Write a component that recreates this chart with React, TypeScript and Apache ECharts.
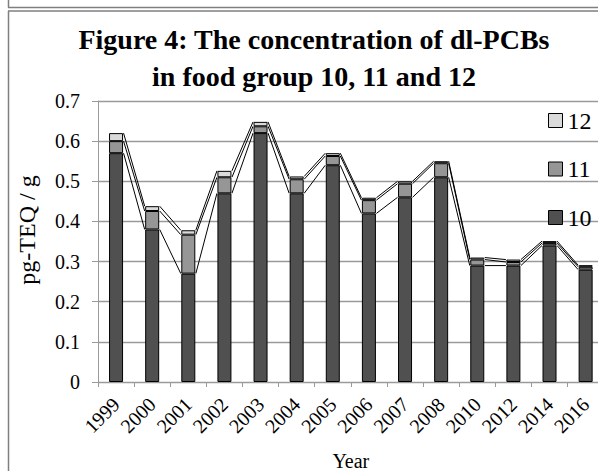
import React, { useEffect, useRef } from "react";
import * as echarts from "echarts";

const years = ["1999", "2000", "2001", "2002", "2003", "2004", "2005", "2006", "2007", "2008", "2010", "2012", "2014", "2016"];
const group10 = [0.57, 0.38, 0.27, 0.47, 0.62, 0.47, 0.54, 0.42, 0.46, 0.51, 0.29, 0.29, 0.34, 0.28];
const group11 = [0.03, 0.046, 0.097, 0.04, 0.017, 0.035, 0.023, 0.033, 0.034, 0.035, 0.015, 0.009, 0.006, 0.007];
const group12 = [0.02, 0.012, 0.011, 0.016, 0.011, 0.007, 0.007, 0.006, 0.006, 0.005, 0.005, 0.006, 0.005, 0.004];
const yTicks = { min: 0, max: 0.7, interval: 0.1 };
const titleText = "Figure 4: The concentration of dl-PCBs\nin food group 10, 11 and 12";
const yName = "pg-TEQ / g";
const xName = "Year";

const FONT = '"Liberation Serif", "Times New Roman", serif';

export default function App() {
  const ref = useRef<HTMLDivElement>(null);
  useEffect(() => {
    if (!ref.current) return;
    const chart = echarts.init(ref.current, null, { renderer: "svg" });
    const c10 = group10;
    const c11 = group10.map((v, i) => v + group11[i]);
    const c12 = c11.map((v, i) => v + group12[i]);
    const seriesLineData = years.slice(0, -1).map((_, i) => [i, c10[i], c10[i + 1], c11[i], c11[i + 1], c12[i], c12[i + 1]]);
    const half = 7.5;
    const gridColor = "#9a9a9a";
    const barBase = { type: "bar", stack: "total", barWidth: 14, animation: false };
    chart.setOption({
      animation: false,
      backgroundColor: "#ffffff",
      textStyle: { fontFamily: FONT },
      grid: { left: 98, top: 101, width: 505.7, height: 281, containLabel: false, outerBoundsMode: "none" },
      legend: {
        orient: "vertical",
        left: 548,
        top: 108.5,
        padding: 0,
        itemWidth: 14,
        itemHeight: 14,
        itemGap: 24.5,
        icon: "rect",
        data: ["12", "11", "10"],
        itemStyle: { borderColor: "#000", borderWidth: 1 },
        textStyle: { fontFamily: FONT, fontSize: 24, color: "#000" },
      },
      xAxis: {
        type: "category",
        data: years,
        boundaryGap: true,
        axisLine: { lineStyle: { color: gridColor, width: 1 } },
        axisTick: { show: true, length: 5, alignWithLabel: false, lineStyle: { color: gridColor } },
        axisLabel: { rotate: 45, fontFamily: FONT, fontSize: 20, color: "#000", margin: 19, interval: 0 },
        name: xName,
        nameLocation: "middle",
        nameGap: 69,
        nameTextStyle: { fontFamily: FONT, fontSize: 20, color: "#000" },
      },
      yAxis: {
        type: "value",
        min: yTicks.min,
        max: yTicks.max,
        interval: yTicks.interval,
        axisLine: { show: true, lineStyle: { color: gridColor, width: 1 } },
        axisTick: { show: true, length: 6, lineStyle: { color: gridColor } },
        splitLine: { show: true, lineStyle: { color: gridColor, width: 1.3 } },
        axisLabel: { fontFamily: FONT, fontSize: 20, color: "#000", margin: 18 },
      },
      graphic: [
        { type: "line", shape: { x1: 8.5, y1: 0, x2: 8.5, y2: 7.5 }, style: { stroke: "#7f7f7f", lineWidth: 1.5 } },
        { type: "line", shape: { x1: 8, y1: 7.5, x2: 620, y2: 7.5 }, style: { stroke: "#7f7f7f", lineWidth: 1.5 } },
        { type: "line", shape: { x1: 8, y1: 11, x2: 620, y2: 11 }, style: { stroke: "#7f7f7f", lineWidth: 1.5 } },
        { type: "line", shape: { x1: 8.5, y1: 11, x2: 8.5, y2: 471 }, style: { stroke: "#7f7f7f", lineWidth: 1.5 } },
        {
          type: "text",
          x: 314,
          y: 21,
          style: {
            text: titleText,
            font: `bold 28px ${FONT}`,
            fill: "#000",
            textAlign: "center",
            textVerticalAlign: "top",
            lineHeight: 37,
          },
        },
        {
          type: "text",
          x: 27,
          y: 230,
          rotation: Math.PI / 2,
          style: {
            text: yName,
            font: `24px ${FONT}`,
            fill: "#000",
            textAlign: "center",
            textVerticalAlign: "middle",
          },
        },
      ],
      series: [
        { ...barBase, name: "10", data: group10, itemStyle: { color: "#505050", borderColor: "#000", borderWidth: 1 } },
        { ...barBase, name: "11", data: group11, itemStyle: { color: "#969696", borderColor: "#000", borderWidth: 1 } },
        { ...barBase, name: "12", data: group12, itemStyle: { color: "#dadada", borderColor: "#000", borderWidth: 1 } },
        {
          type: "custom",
          name: "serieslines",
          data: seriesLineData,
          encode: { x: 0, y: 1 },
          z: 5,
          silent: true,
          renderItem: (_params: any, api: any) => {
            const i = api.value(0);
            const children: any[] = [];
            for (let k = 0; k < 3; k++) {
              const p0 = api.coord([i, api.value(1 + 2 * k)]);
              const p1 = api.coord([i + 1, api.value(2 + 2 * k)]);
              children.push({
                type: "line",
                shape: { x1: p0[0] + half, y1: p0[1], x2: p1[0] - half, y2: p1[1] },
                style: { stroke: "#000", lineWidth: 1 },
              });
            }
            return { type: "group", children };
          },
        },
      ],
    });
    return () => chart.dispose();
  }, []);
  return (
    <div style={{ position: "fixed", left: 0, top: 0, width: 598, height: 471, overflow: "hidden", background: "#fff" }}>
      <div ref={ref} style={{ position: "absolute", left: 0, top: 0, width: 620, height: 471 }} />
    </div>
  );
}
